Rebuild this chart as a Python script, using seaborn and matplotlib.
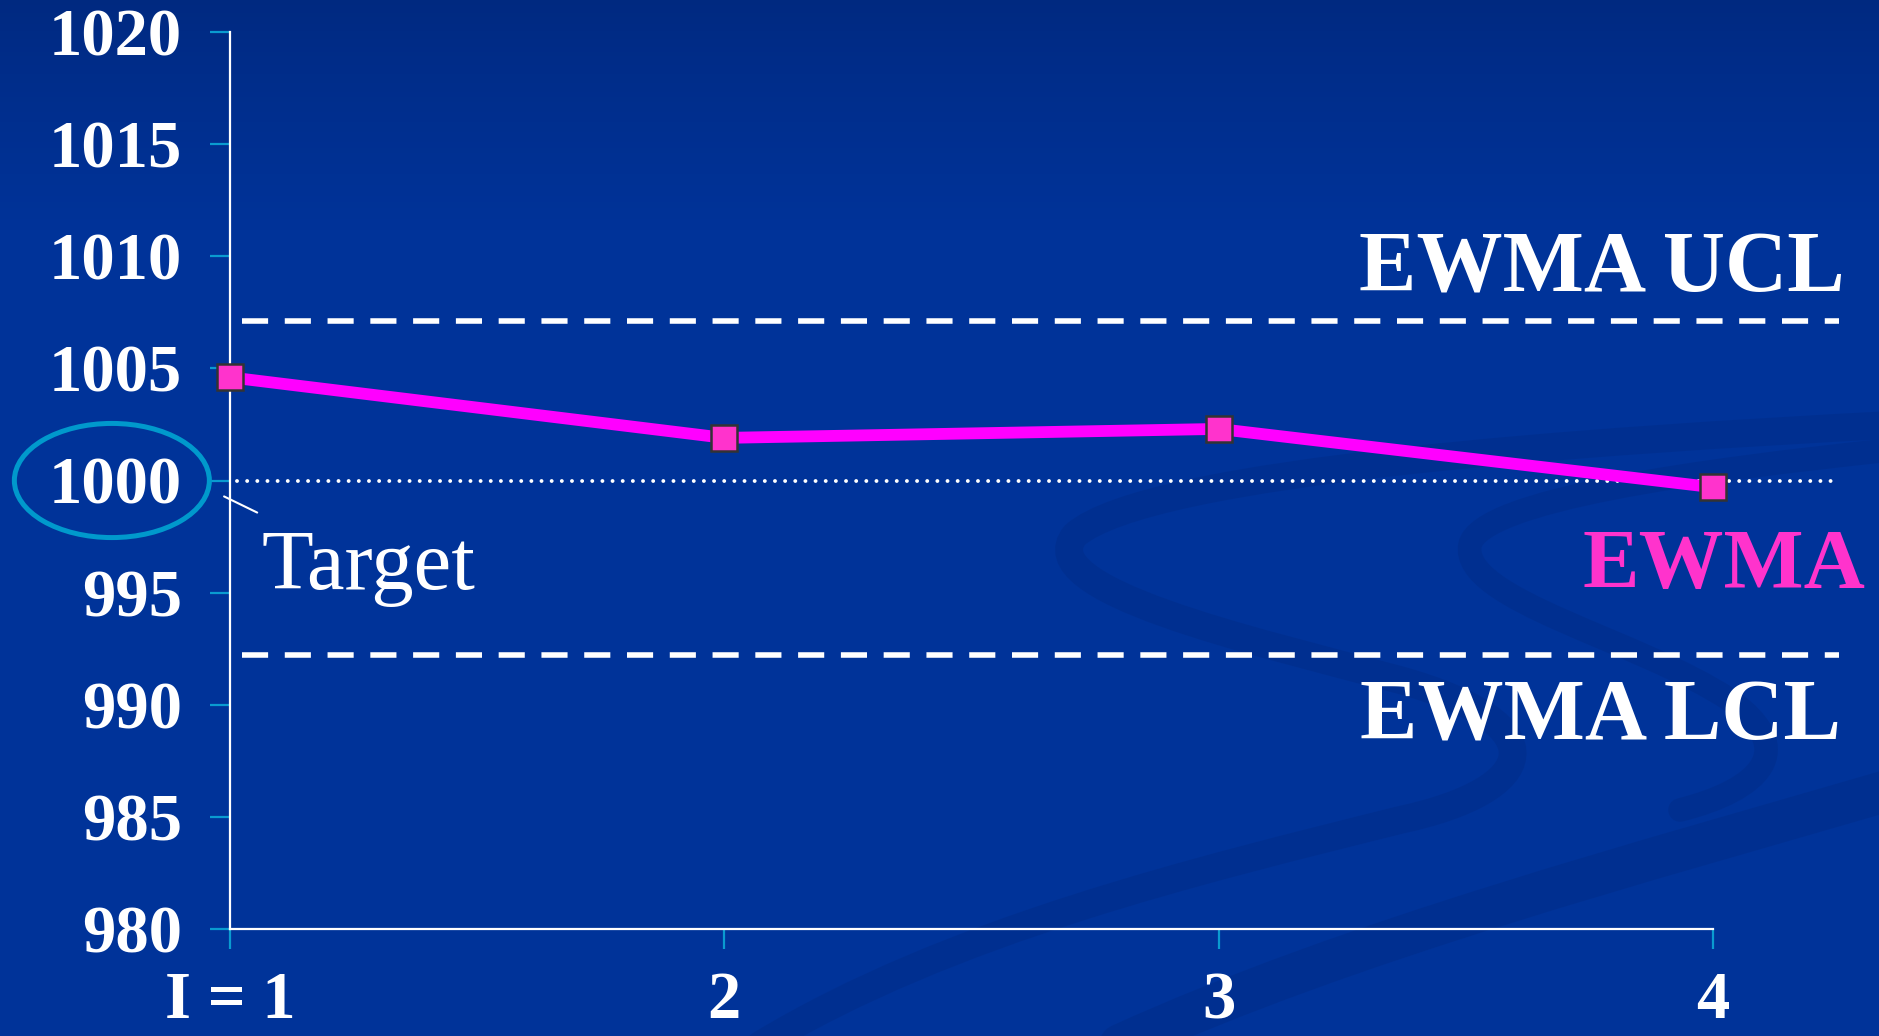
import numpy as np
import pandas as pd
import matplotlib
matplotlib.use("Agg")
import matplotlib.pyplot as plt
import seaborn as sns
from matplotlib.patches import Ellipse, PathPatch
from matplotlib.path import Path

# ---- data -------------------------------------------------------------
samples = [1, 2, 3, 4]
sample_labels = ["I = 1", "2", "3", "4"]
ewma = [1004.6, 1001.9, 1002.3, 999.7]
target = 1000.0
ewma_ucl = 1007.1
ewma_lcl = 992.2
y_ticks = [980, 985, 990, 995, 1000, 1005, 1010, 1015, 1020]

# ---- style ------------------------------------------------------------
sns.set_theme(style="white")
plt.rcParams["font.family"] = ["Liberation Serif", "DejaVu Serif"]

W, H, DPI = 1879, 1036, 100
BG = "#003399"
fig = plt.figure(figsize=(W / DPI, H / DPI), dpi=DPI)
fig.patch.set_facecolor(BG)

# background: slight darkening toward the top plus faint swooshes
bg = fig.add_axes([0, 0, 1, 1], zorder=0)
bg.set_xlim(0, W)
bg.set_ylim(H, 0)
bg.axis("off")
top = np.array([0x00, 0x29, 0x80]) / 255
base = np.array([0x00, 0x33, 0x99]) / 255
t = np.clip(np.linspace(0, H, H) / 230.0, 0, 1) ** 0.8
grad = (top[None, :] * (1 - t[:, None]) + base[None, :] * t[:, None])[:, None, :]
bg.imshow(grad, extent=[0, W, H, 0], aspect="auto", zorder=0)

C4 = Path.CURVE4
swooshes = [
    ([(1890, 425), (1600, 440), (1150, 470), (1075, 535),
      (1030, 590), (1250, 640), (1400, 680),
      (1560, 725), (1540, 790), (1400, 820),
      (1200, 870), (950, 930), (760, 1045)], 20),
    ([(1890, 450), (1700, 470), (1480, 500), (1470, 545),
      (1460, 600), (1640, 640), (1730, 700),
      (1800, 750), (1760, 790), (1680, 810)], 17),
    ([(1890, 790), (1650, 860), (1350, 940), (1120, 1045)], 30),
]
for verts, lw in swooshes:
    codes = [Path.MOVETO] + [C4] * (len(verts) - 1)
    bg.add_patch(PathPatch(Path(verts, codes), fill=False, ec="#00287c",
                           lw=lw, alpha=0.3, capstyle="round", zorder=1))

# ---- chart axes ---------------------------------------------------------
x_min, x_max = 1.0, 4.3
left, right = 230 / W, (230 + (x_max - x_min) * 494.3) / W
bottom, top_f = 1 - 929 / H, 1 - 32 / H
ax = fig.add_axes([left, bottom, right - left, top_f - bottom], zorder=1)
ax.patch.set_alpha(0)
ax.set_xlim(x_min, x_max)
ax.set_ylim(980, 1020)

# control limits and target
ax.plot([1.024, 4.255], [ewma_ucl, ewma_ucl], color="white", lw=4,
        dashes=(4.7, 3.0), clip_on=False, zorder=2)
ax.plot([1.024, 4.255], [ewma_lcl, ewma_lcl], color="white", lw=4,
        dashes=(4.7, 3.0), clip_on=False, zorder=2)
ax.plot([1.014, 4.243], [target, target], color="white", lw=2.8,
        dashes=(0.01, 2.6), dash_capstyle="round", clip_on=False, zorder=2)

# EWMA series
df = pd.DataFrame({"sample": samples, "ewma": ewma})
sns.lineplot(data=df, x="sample", y="ewma", ax=ax, color="#ff00ff",
             linewidth=8.5, marker="s", markersize=19,
             markerfacecolor="#ff33cc", markeredgecolor="#333333",
             markeredgewidth=1.8, clip_on=False, zorder=5)

# axes frame and ticks
for side in ("top", "right"):
    ax.spines[side].set_visible(False)
for side in ("left", "bottom"):
    ax.spines[side].set_color("white")
    ax.spines[side].set_linewidth(1.6)
ax.spines["left"].set_bounds(980, 1020)
ax.spines["bottom"].set_bounds(1, 4)

ax.set_xticks(samples)
ax.set_xticklabels(sample_labels)
ax.set_yticks(y_ticks)
ax.set_yticklabels([str(v) for v in y_ticks])
ax.tick_params(axis="both", which="major", bottom=True, left=True,
               direction="out", length=14.4, width=1.6,
               color="#0a9bd0", labelcolor="white", labelsize=48)
ax.tick_params(axis="y", pad=20)
ax.tick_params(axis="x", pad=16)
for lbl in ax.get_xticklabels() + ax.get_yticklabels():
    lbl.set_fontweight("bold")
ax.set_xlabel("")
ax.set_ylabel("")

# annotations
ax.add_patch(Ellipse((0.761, 1000), width=0.3945, height=5.09, fill=False,
                     ec="#0099cc", lw=3.6, clip_on=False, zorder=3))
ax.plot([0.988, 1.055], [999.29, 998.57], color="white", lw=1.5,
        clip_on=False, zorder=3)
ax.text(1.063, 995.18, "Target", color="white", fontsize=61,
        ha="left", va="baseline")
ax.text(4.267, 1008.45, "EWMA UCL", color="white", fontsize=62,
        fontweight="bold", ha="right", va="baseline")
ax.text(4.308, 995.22, "EWMA", color="#ff33cc", fontsize=61,
        fontweight="bold", ha="right", va="baseline")
ax.text(4.259, 988.44, "EWMA LCL", color="white", fontsize=62,
        fontweight="bold", ha="right", va="baseline")

fig.savefig("out.png", dpi=DPI, facecolor=fig.get_facecolor())
